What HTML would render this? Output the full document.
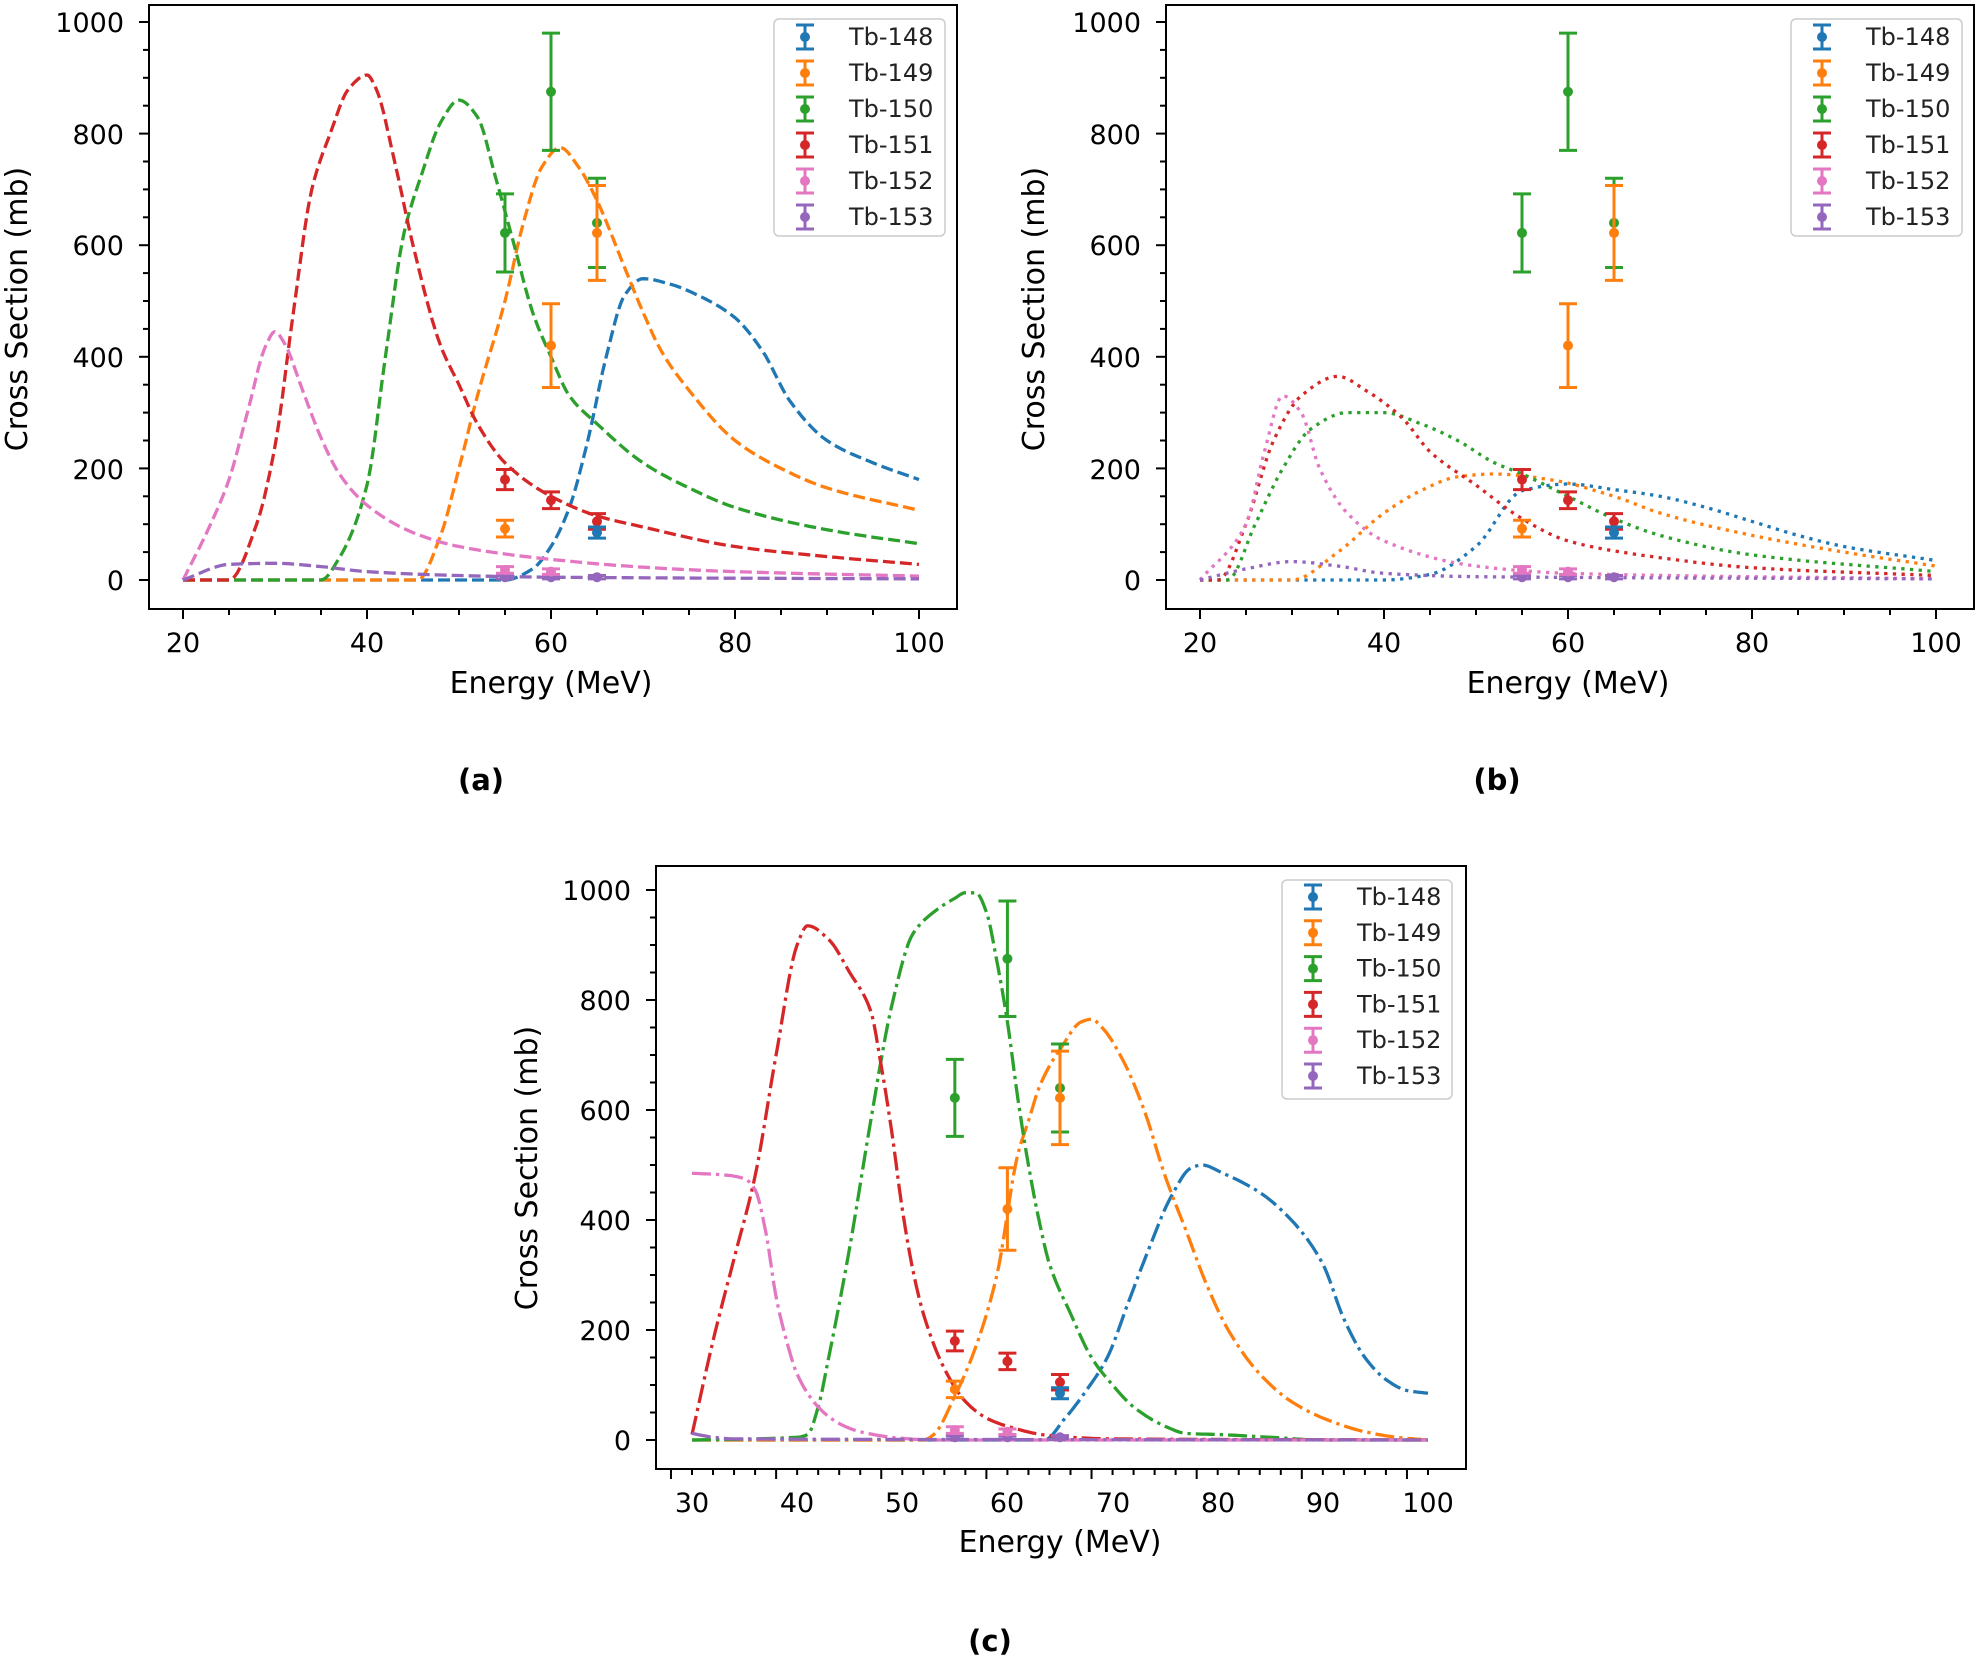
<!DOCTYPE html>
<html><head><meta charset="utf-8">
<style>
html,body{margin:0;padding:0;background:#fff;}
svg{display:block;font-family:"DejaVu Sans","Liberation Sans",sans-serif;}
</style></head>
<body>
<svg id="s" width="1980" height="1662" viewBox="0 0 1980 1662" xmlns="http://www.w3.org/2000/svg">
<rect width="1980" height="1662" fill="#fff"/>
<g id="curves"></g>
<g id="axes" stroke="#000" fill="none" stroke-width="2">
<rect x="149" y="5" width="808" height="604"/>
<rect x="1166" y="5" width="808" height="604"/>
<rect x="656" y="866" width="810" height="603"/>
</g>
<g id="ticks" stroke="#000" stroke-width="2"></g>
<g font-size="27" fill="#000" text-anchor="end">
<text x="124" y="590">0</text><text x="124" y="479">200</text><text x="124" y="367">400</text><text x="124" y="255">600</text><text x="124" y="144">800</text><text x="124" y="32">1000</text>
<text x="1141" y="590">0</text><text x="1141" y="479">200</text><text x="1141" y="367">400</text><text x="1141" y="255">600</text><text x="1141" y="144">800</text><text x="1141" y="32">1000</text>
<text x="631" y="1450">0</text><text x="631" y="1340">200</text><text x="631" y="1230">400</text><text x="631" y="1120">600</text><text x="631" y="1010">800</text><text x="631" y="900">1000</text>
</g>
<g font-size="27" fill="#000" text-anchor="middle">
<text x="183" y="652">20</text><text x="367" y="652">40</text><text x="551" y="652">60</text><text x="735" y="652">80</text><text x="919" y="652">100</text>
<text x="1200" y="652">20</text><text x="1384" y="652">40</text><text x="1568" y="652">60</text><text x="1752" y="652">80</text><text x="1936" y="652">100</text>
<text x="692" y="1512">30</text><text x="797" y="1512">40</text><text x="902" y="1512">50</text><text x="1007" y="1512">60</text><text x="1113" y="1512">70</text><text x="1218" y="1512">80</text><text x="1323" y="1512">90</text><text x="1428" y="1512">100</text>
</g>
<g font-size="30" fill="#000" text-anchor="middle">
<text x="551" y="693">Energy (MeV)</text>
<text x="1568" y="693">Energy (MeV)</text>
<text x="1060" y="1552">Energy (MeV)</text>
<text transform="translate(27,309) rotate(-90)">Cross Section (mb)</text>
<text transform="translate(1044,309) rotate(-90)">Cross Section (mb)</text>
<text transform="translate(537,1168) rotate(-90)">Cross Section (mb)</text>
</g>
<g font-size="29" font-weight="bold" fill="#000" text-anchor="middle">
<text x="481" y="790">(a)</text>
<text x="1497" y="790">(b)</text>
<text x="990" y="1651">(c)</text>
</g>
<g id="legends"></g>
<g id="legtext" font-size="24" fill="#222"></g>
</svg>
<script>
var NS="http://www.w3.org/2000/svg";
function el(p,t,a){var e=document.createElementNS(NS,t);for(var k in a)e.setAttribute(k,a[k]);p.appendChild(e);return e;}
var C={148:"#1f77b4",149:"#ff7f0e",150:"#2ca02c",151:"#d62728",152:"#e377c2",153:"#9467bd"};
var A={X:function(e){return 183+(e-20)*9.2},Y:function(v){return 580-v*0.558}};
var B={X:function(e){return 1200+(e-20)*9.2},Y:A.Y};
var Cc={X:function(e){return 692+(e-30)*10.514},Y:function(v){return 1440-v*0.55}};
function smooth(pts){
  var n=pts.length,x=pts.map(function(p){return p[0]}),y=pts.map(function(p){return p[1]});
  var d=[],m=[];
  for(var i=0;i<n-1;i++)d.push((y[i+1]-y[i])/(x[i+1]-x[i]));
  m[0]=d[0];m[n-1]=d[n-2];
  for(i=1;i<n-1;i++){ if(d[i-1]*d[i]<=0)m[i]=0; else{var w1=2*(x[i+1]-x[i])+(x[i]-x[i-1]),w2=(x[i+1]-x[i])+2*(x[i]-x[i-1]);m[i]=(w1+w2)/(w1/d[i-1]+w2/d[i]);}}
  var out=[];
  for(i=0;i<n-1;i++){var h=x[i+1]-x[i];
    for(var t=0;t<1;t+=0.1){var t2=t*t,t3=t2*t;
      var v=(2*t3-3*t2+1)*y[i]+(t3-2*t2+t)*h*m[i]+(-2*t3+3*t2)*y[i+1]+(t3-t2)*h*m[i+1];
      out.push([x[i]+t*h,v]);}}
  out.push(pts[n-1]);return out;
}
function curve(M,pts,col,dash){
  var s=smooth(pts).map(function(p){return M.X(p[0]).toFixed(1)+","+M.Y(p[1]).toFixed(1)}).join(" ");
  el(document.getElementById("curves"),"polyline",{points:s,fill:"none",stroke:col,"stroke-width":3.3,"stroke-dasharray":dash});
}
var D="12,5",DT="3.3,5.4",DD="19,5,3.3,5";
var a={
152:[[20,0],[23,100],[25,180],[27,300],[29,420],[30,445],[31,425],[33,340],[35,255],[37,190],[40,134],[45,85],[50,60],[60,37],[70,23],[80,15],[100,7]],
151:[[20,0],[25,0],[28,100],[30,240],[32,480],[34,700],[36,800],[38,880],[40,905],[41,880],[43,750],[45,600],[48,420],[50,350],[52,280],[55,210],[60,150],[65,115],[70,95],[80,60],[90,42],[100,28]],
150:[[20,0],[35,0],[37,40],[40,170],[42,400],[44,620],[46,730],[48,820],[50,860],[52,830],[54,720],[56,600],[58,480],[60,400],[62,330],[65,280],[70,210],[75,165],[80,130],[90,90],[100,65]],
149:[[20,0],[45.5,0],[48,80],[50,200],[52,330],[55,500],[57,640],[59,740],[61,775],[63,740],[65,680],[68,560],[70,480],[72,410],[75,340],[80,250],[85,200],[90,165],[100,125]],
148:[[20,0],[55,0],[58,20],[60,60],[62,130],[64,250],[66,400],[68,510],[70,540],[73,530],[76,510],[80,470],[83,410],[86,320],[90,250],[95,210],[100,180]],
153:[[20,0],[25,28],[30,30],[35,24],[40,15],[50,8],[60,5],[100,2]]};
var b={
152:[[20,0],[25,100],[27,230],[29,330],[31,300],[33,200],[36,120],[40,70],[50,25],[60,12],[100,2]],
151:[[20,0],[22,0],[25,100],[28,250],[31,330],[35,365],[38,340],[42,290],[45,230],[50,170],[55,110],[60,70],[70,40],[80,22],[100,8]],
150:[[20,0],[23,0],[26,100],[29,200],[32,270],[36,300],[40,300],[44,280],[48,250],[52,210],[55,190],[60,150],[65,110],[70,80],[80,45],[100,15]],
149:[[20,0],[30,0],[35,50],[40,120],[44,160],[48,185],[52,190],[58,180],[65,150],[70,120],[80,80],[90,50],[100,25]],
148:[[20,0],[40,0],[45,10],[50,60],[55,160],[60,172],[65,162],[70,150],[75,130],[80,105],[85,80],[90,60],[100,35]],
153:[[20,0],[25,20],[30,33],[35,25],[40,12],[50,6],[100,2]]};
var c={
152:[[30,485],[33,482],[35,475],[36,455],[37,380],[38,260],[39,180],[40,120],[42,60],[44,30],[46,15],[50,3],[53,0],[100,0]],
151:[[30,10],[32,180],[34,330],[36,480],[38,700],[40,900],[41,935],[43,910],[45,850],[47,780],[48,680],[49,560],[50,420],[51,310],[52,230],[54,130],[56,70],[58,40],[60,25],[64,8],[70,2],[100,0]],
150:[[30,0],[40,5],[41,10],[42,60],[43,150],[45,350],[47,580],[49,790],[51,920],[53,960],[55,985],[56,995],[57,995],[58,960],[59,870],[60,760],[61,620],[62,500],[63,400],[64,320],[66,230],[68,150],[70,100],[72,60],[75,25],[77,12],[80,10],[85,5],[90,0],[100,0]],
149:[[30,0],[52,0],[53,10],[55,80],[57,170],[59,300],[61,520],[62,580],[63,640],[64,680],[65,710],[67,760],[68,765],[69,750],[71,690],[73,600],[75,480],[77,380],[79,280],[81,200],[84,120],[87,70],[90,40],[94,15],[97,5],[100,0]],
148:[[30,0],[63.5,0],[65.5,40],[67.5,90],[69.5,150],[71.5,250],[73.5,350],[75.5,440],[77.5,495],[78.5,500],[80.5,485],[84,450],[87,400],[90,320],[92,220],[94,150],[96,110],[98,90],[100,85]],
153:[[30,12],[32,5],[34,2],[100,0]]};
[148,149,150,151,152,153].forEach(function(k){curve(A,a[k],C[k],D);curve(B,b[k],C[k],DT);curve(Cc,c[k],C[k],DD);});
var pts={148:[[65,85,10]],149:[[55,92,15],[60,420,75],[65,622,85]],150:[[55,622,70],[60,875,105],[65,640,80]],151:[[55,180,18],[60,143,15],[65,105,14]],152:[[55,18,6],[60,15,5]],153:[[55,5,3],[60,5,3],[65,5,3]]};
var g=document.getElementById("curves");
[A,B,Cc].forEach(function(M){
 [153,152,151,150,149,148].forEach(function(k){
  pts[k].forEach(function(p){
   var x=M.X(p[0]),y1=M.Y(p[1]-p[2]),y2=M.Y(p[1]+p[2]),y=M.Y(p[1]);
   el(g,"line",{x1:x,x2:x,y1:y1,y2:y2,stroke:C[k],"stroke-width":3});
   el(g,"line",{x1:x-9,x2:x+9,y1:y1,y2:y1,stroke:C[k],"stroke-width":3});
   el(g,"line",{x1:x-9,x2:x+9,y1:y2,y2:y2,stroke:C[k],"stroke-width":3});
   el(g,"circle",{cx:x,cy:y,r:5,fill:C[k]});
  });
 });
});
var tg=document.getElementById("ticks");
function ticksX(M,lo,hi,maj,min,yb){for(var e=lo;e<=hi+0.01;e+=min){var x=M.X(e);var isM=Math.abs((e-lo)%maj)<0.01;el(tg,"line",{x1:x,x2:x,y1:yb,y2:yb+(isM?10:6)});}}
function ticksY(M,xl){for(var v=0;v<=1000;v+=50){var y=M.Y(v);var isM=v%200==0;el(tg,"line",{x1:xl,x2:xl-(isM?10:6),y1:y,y2:y});}}
ticksX(A,20,100,20,5,609);ticksX(B,20,100,20,5,609);ticksX(Cc,28,100,10,2,1469);
ticksY(A,149);ticksY(B,1166);ticksY(Cc,656);
var lg=document.getElementById("legends"),lt=document.getElementById("legtext");
function legend(bx,by,bw,bh,mx,tx,y0,dy){
 el(lg,"rect",{x:bx,y:by,width:bw,height:bh,rx:5,fill:"#fff","fill-opacity":0.85,stroke:"#ccc","stroke-width":1.5});
 [148,149,150,151,152,153].forEach(function(k,i){
  var y=y0+i*dy;
  el(lg,"line",{x1:mx,x2:mx,y1:y-12,y2:y+12,stroke:C[k],"stroke-width":3});
  el(lg,"line",{x1:mx-9,x2:mx+9,y1:y-12,y2:y-12,stroke:C[k],"stroke-width":3});
  el(lg,"line",{x1:mx-9,x2:mx+9,y1:y+12,y2:y+12,stroke:C[k],"stroke-width":3});
  el(lg,"circle",{cx:mx,cy:y,r:5,fill:C[k]});
  var t=el(lt,"text",{x:tx,y:y+8});t.textContent="Tb-"+k;
 });
}
legend(774,19,171,217,805,849,37,36);
legend(1791,19,171,217,1822,1866,37,36);
legend(1282,880,170,219,1313,1357,897,35.8);
</script>
</body></html>
